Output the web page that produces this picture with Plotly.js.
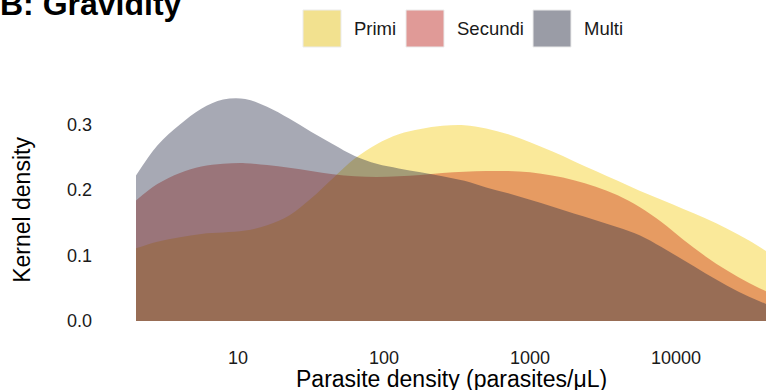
<!DOCTYPE html>
<html>
<head>
<meta charset="utf-8">
<script src="https://cdn.plot.ly/plotly-3.0.1.min.js"></script>
<style>html,body{margin:0;padding:0;background:#fff;}#chart{width:766px;height:390px;}</style>
</head>
<body>
<div id="chart"></div>
<script>
// Data (parasite density in parasites/uL, kernel density)
const groups = ["Primi", "Secundi", "Multi"];
const density = [2, 2.8, 4, 5.6, 7.9, 11.2, 15.8, 22.4, 31.6, 44.7, 63, 89, 126, 178, 251, 355, 501, 708, 1000, 1413, 1995, 2818, 3981, 5623, 7943, 11220, 15849, 22387, 31623, 44668];
const primi   = [0.111, 0.121, 0.128, 0.133, 0.135, 0.138, 0.146, 0.161, 0.187, 0.218, 0.248, 0.270, 0.285, 0.293, 0.298, 0.299, 0.294, 0.285, 0.273, 0.259, 0.244, 0.229, 0.214, 0.199, 0.185, 0.171, 0.157, 0.141, 0.123, 0.102];
const secundi = [0.184, 0.209, 0.226, 0.236, 0.240, 0.241, 0.238, 0.234, 0.229, 0.224, 0.221, 0.220, 0.221, 0.223, 0.226, 0.228, 0.229, 0.229, 0.227, 0.222, 0.215, 0.205, 0.192, 0.174, 0.151, 0.124, 0.099, 0.077, 0.058, 0.042];
const multi   = [0.222, 0.268, 0.300, 0.324, 0.338, 0.339, 0.327, 0.309, 0.289, 0.270, 0.252, 0.240, 0.233, 0.227, 0.221, 0.214, 0.204, 0.195, 0.185, 0.175, 0.164, 0.154, 0.143, 0.131, 0.113, 0.093, 0.073, 0.054, 0.037, 0.023];
const series = [primi, secundi, multi];
const yTickVals = [0, 0.1, 0.2, 0.3];
const yTickText = ["0.0", "0.1", "0.2", "0.3"];
const xTickVals = [10, 100, 1000, 10000];
const xTickText = ["10", "100", "1000", "10000"];
const xTitle = "Parasite density (parasites/μL)";
const yTitle = "Kernel density";

// Styles
const fills = ["rgba(242,200,2,0.4)", "rgba(200,38,16,0.4)", "rgba(35,40,68,0.4)"];
const keyColors = ["#F2E18F", "#E09A97", "#9A9CA6"];
const FONT = "Liberation Sans, Arial, Helvetica, sans-serif";

const traces = groups.map((g, i) => ({
  type: "scatter",
  mode: "lines",
  x: density,
  y: series[i],
  name: g,
  fill: "tozeroy",
  fillcolor: fills[i],
  line: {width: 0, shape: "spline", smoothing: 1},
  showlegend: false,
  hoverinfo: "x+y+name"
}));

// Custom legend (large square keys) placed in paper coordinates
const L = 136, W = 630, T = 75, H = 270;
const px2x = p => (p - L) / W;
const py2y = p => (T + H - p) / H;
const keyLeft = [303, 406, 533];
const textLeft = [352, 455, 582];
const shapes = [], annotations = [];
groups.forEach((g, i) => {
  shapes.push({
    type: "rect", xref: "paper", yref: "paper",
    x0: px2x(keyLeft[i]), x1: px2x(keyLeft[i] + 38),
    y0: py2y(47), y1: py2y(10),
    fillcolor: keyColors[i], line: {color: "#EBEBEB", width: 1}, layer: "above"
  });
  annotations.push({
    xref: "paper", yref: "paper", x: px2x(textLeft[i]), y: py2y(28.5),
    xanchor: "left", yanchor: "middle", showarrow: false, text: g,
    font: {family: FONT, size: 18.5, color: "#1a1a1a"}
  });
});
// x-axis title (its descenders touch the picture edge, as in the reference)
annotations.push({
  xref: "paper", yref: "paper", x: 0.5, y: py2y(379),
  xanchor: "center", yanchor: "middle", showarrow: false, text: xTitle,
  font: {family: FONT, size: 23, color: "#000000"}
});

const layout = {
  width: 766, height: 390,
  margin: {l: L, r: 0, t: T, b: 390 - T - H},
  paper_bgcolor: "#ffffff", plot_bgcolor: "#ffffff",
  title: {
    text: "<b>B: Gravidity</b>", x: 0, xref: "container", xanchor: "left",
    y: 0.990, yref: "container", yanchor: "middle",
    font: {family: FONT, size: 32, color: "#000000"}
  },
  xaxis: {
    type: "log", range: [Math.log10(2), 4.616],
    tickvals: xTickVals, ticktext: xTickText,
    showgrid: false, zeroline: false, showline: false, ticks: "",
    ticklabelstandoff: 0,
    tickfont: {family: FONT, size: 18, color: "#1a1a1a"},
    automargin: false
  },
  yaxis: {
    range: [-(345 - 321) / 655, (321 - 75) / 655],
    tickvals: yTickVals, ticktext: yTickText,
    showgrid: false, zeroline: false, showline: false, ticks: "",
    ticklabelstandoff: 43,
    tickfont: {family: FONT, size: 18, color: "#1a1a1a"},
    title: {text: yTitle, standoff: 29,
            font: {family: FONT, size: 23, color: "#000000"}},
    automargin: false
  },
  shapes: shapes,
  annotations: annotations,
  showlegend: false
};

Plotly.newPlot("chart", traces, layout, {displayModeBar: false, staticPlot: true});
</script>
</body>
</html>
